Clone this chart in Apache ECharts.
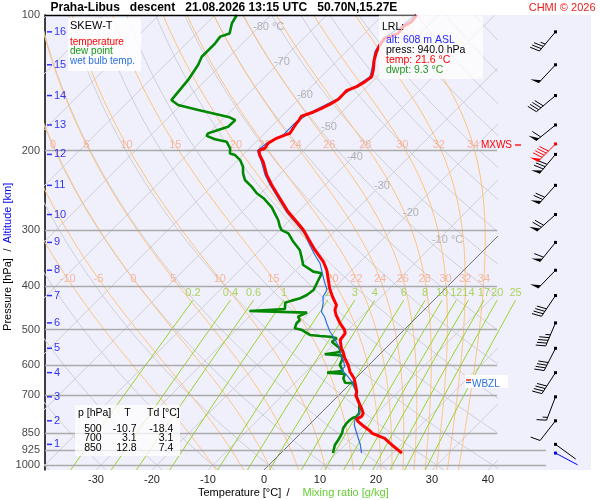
<!DOCTYPE html>
<html>
<head>
<meta charset="utf-8">
<title>Skew-T Praha-Libus</title>
<style>
    html, body { margin: 0; padding: 0; background: #fff; }
    #container { width: 600px; height: 500px; }
</style>
</head>
<body>
<div id="container"></div>
<script src="https://cdn.jsdelivr.net/npm/echarts@6.0.0/dist/echarts.min.js"></script>
<script type="text/javascript">
// sounding (p in hPa, values in °C)
var tempP = [940, 906.7, 871.6, 850, 839.6, 818.4, 800.6, 789.7, 780.4, 767, 747.5, 728.7, 700, 686.8, 657.7, 641.2, 620, 599.1, 578.9, 559.7, 550.1, 527.2, 509.5, 500, 484, 463.9, 452.2, 440.9, 422.5, 404.8, 368.5, 353.1, 332.6, 313.3, 300.4, 287.9, 273.6, 255.3, 238.6, 226.6, 211.8, 204.7, 200.2, 197.7, 192.7, 187.9, 184.8, 183.2, 178.5, 174, 171.2, 167.7, 164.9, 161.2, 157.1, 153.9, 147.3, 144.3, 140.6, 137.1, 132.5, 126, 120.6, 116.6, 112.7, 109.9, 106.2, 103.5, 100];
var tempT = [21.6, 18.8, 15.9, 12.8, 12.0, 9.9, 8.2, 7.4, 7.9, 7.6, 6.4, 5.1, 3.1, 2.6, 0.8, -0.3, -2.2, -3.7, -5.5, -7.0, -7.9, -9.6, -9.9, -10.7, -12.6, -14.8, -15.9, -16.5, -18.7, -20.7, -24.5, -26.6, -30.2, -33.5, -35.8, -38.5, -41.8, -45.7, -49.5, -52.2, -55.2, -57.0, -57.9, -57.3, -57.6, -57.0, -56.1, -55.5, -55.8, -56.1, -56.2, -56.5, -55.3, -54.3, -53.4, -52.9, -53.0, -51.9, -51.3, -51.0, -51.9, -53.5, -54.6, -55.2, -55.5, -54.0, -54.3, -53.7, -54.0];

var dewP = [940, 902, 879.1, 850, 828.2, 807.3, 793.7, 784.4, 780.4, 767, 747.5, 728.7, 700, 686.8, 657.7, 655.8, 641.2, 627.2, 623, 617.6, 599.1, 583.8, 570.5, 567.2, 560.5, 550.1, 531.8, 522.7, 518.3, 516.5, 513.8, 500, 496.6, 484, 475.8, 467.9, 458.4, 454.4, 449.8, 435.5, 431, 425.8, 418.7, 408.1, 387.9, 374.8, 371.6, 359.2, 344.2, 332.6, 319, 305.5, 300.4, 295.3, 285.4, 275.8, 267.5, 255.3, 248.9, 240.6, 232.5, 224.8, 217.3, 210, 204.7, 203, 197.7, 191.2, 188.8, 185.6, 183.2, 180.1, 177.1, 171.2, 169.6, 168.8, 162.6, 158.5, 154.5, 146.8, 139.4, 129.1, 123.8, 115.6, 111.7, 109.9, 104.3, 100];
var dewT = [9.3, 8.2, 7.9, 7.4, 6.7, 6.4, 6.4, 6.6, 7.0, 6.9, 6.0, 5.1, 3.1, 2.6, 0.4, -1.1, -2.2, -2.7, -6.1, -3.6, -5.2, -5.7, -6.5, -9.8, -7.5, -8.2, -10.8, -10.5, -12.0, -13.9, -15.9, -18.4, -19.8, -20.4, -20.4, -21.3, -20.4, -31.0, -25.0, -26.1, -25.3, -24.2, -23.6, -23.3, -24.2, -24.8, -26.6, -29.6, -31.4, -32.9, -35.5, -37.9, -39.7, -40.6, -42.1, -43.9, -45.5, -48.6, -50.7, -52.8, -55.2, -56.7, -57.9, -59.6, -61.4, -62.6, -63.5, -65.3, -67.8, -69.9, -70.1, -68.9, -67.7, -67.6, -68.0, -69.1, -76.0, -80.5, -82.6, -82.9, -83.2, -84.1, -84.9, -84.9, -85.2, -84.1, -85.5, -86.1];

var wbP = [940, 898.7, 849.5, 814.3, 793.7, 780.4, 747.5, 728.7, 686.8, 652.3, 630.5, 614.6, 604.2, 583.8, 569.1, 559.7, 540.8, 518.3, 505.3, 484, 469.4, 456.1, 436.9, 422.5, 408.1, 387.9, 356.1, 341.2, 324.3, 308.1, 300.4, 287.9, 273.6, 255.3, 238.6, 226.6, 211.8, 200.2, 192.7, 184.8, 174, 164.9, 153.9, 144.3, 137.1, 132.5, 120.6, 112.7, 106.2, 100];
var wbT = [14.4, 12.6, 10.0, 8.1, 7.3, 7.2, 6.2, 5.0, 2.5, -0.1, -2.2, -4.0, -4.0, -5.5, -7.0, -7.3, -9.1, -11.4, -12.9, -15.0, -16.4, -18.0, -19.2, -20.4, -20.9, -23.2, -26.9, -29.3, -32.0, -34.6, -36.1, -38.8, -42.1, -46.0, -49.8, -52.5, -55.5, -58.2, -57.9, -56.4, -56.4, -55.6, -53.2, -52.2, -51.3, -52.2, -54.9, -55.8, -54.6, -54.3];

// altitude scale (km) and the pressure at each km
var altKm = [1, 2, 3, 4, 5, 6, 7, 8, 9, 10, 11, 12, 13, 14, 15, 16];
var altP = [899, 797, 705, 623, 550, 483, 420, 369, 320, 277.5, 239, 204, 175.5, 151, 129, 109];
// wind at each km: direction (deg), speed (kt)
var windDir = [126, 218, 201, 213, 207, 203, 214, 224, 219, 228, 222, 220, 231, 230, 223, 220];
var windSpd = [2, 10, 15, 40, 40, 45, 40, 50, 60, 70, 70, 80, 60, 40, 50, 35];
var maxWind = {p: 193.4, dir: 225, spd: 90};
var lrlWind = {p: 940, dir: 118, spd: 2};

var lrl = {alt: 608, p: 940.0, t: 21.6, td: 9.3};
var tableP = [500, 700, 850];
var tableT = [-10.7, 3.1, 12.8];
var tableTd = [-18.4, 3.1, 7.4];

// ticks / reference lines
var pressureTicks = [100, 200, 300, 400, 500, 600, 700, 850, 925, 1000];
var tempTicks = [-30, -20, -10, 0, 10, 20, 30, 40];
var mixRatios = [0.2, 0.4, 0.6, 1, 2, 3, 4, 6, 8, 10, 12, 14, 17, 20, 25];
var moistThetaW = [-10, -5, 0, 5, 10, 15, 20, 22, 24, 26, 28, 30, 32, 34];
var isoLabelT = [-80, -70, -60, -50, -40, -30, -20, -10];

// ---- layout ----
var FONT = '"Liberation Sans", Arial, sans-serif';
var P_TOP = 100, P_BOT = 1025;
var PX_PER_DEG = 5.6;
var GRID_L = 45, GRID_R = 103, GRID_T = 15, GRID_B = 30;
var PLOT_W = 600 - GRID_L - GRID_R, PLOT_H = 500 - GRID_T - GRID_B;
var X_MIN = -39.1, X_MAX = X_MIN + PLOT_W / PX_PER_DEG;
var SKEW = PLOT_H / Math.log10(P_BOT / P_TOP) / PX_PER_DEG;   // °C shift per decade of p
var X_WIND = X_MIN + (555.5 - GRID_L) / PX_PER_DEG;
var X_ALT = X_MIN + 4.5 / PX_PER_DEG;
var isoLabelP = [106.3, 127.2, 150.6, 177.3, 206.8, 239.7, 275.3, 316.1];
var MIX_TOP = 430;
var MOIST_LABEL_P = [385.8, 194.4];

function skewX(t, p) { return t + SKEW * Math.log10(P_BOT / p); }
function profile(ps, ts) { return ps.map(function (p, i) { return [skewX(ts[i], p), p]; }); }

function pSteps(p0, p1, n) {
    var out = [];
    for (var i = 0; i <= n; i++) out.push(p0 * Math.pow(p1 / p0, i / n));
    return out;
}

// background thermodynamics
function satVap(tc) { return 6.112 * Math.exp(17.67 * tc / (tc + 243.5)); }
function moistLapse(p, tk) {
    var es = satVap(tk - 273.15);
    var rs = 0.622 * es / (p - es);
    var Lv = 2.501e6, Rd = 287.04, cp = 1005.7;
    return (Rd * tk + Lv * rs) / p / (cp + Lv * Lv * rs * 0.622 / (Rd * tk * tk));
}
function rk4(p, t, h) {
    var k1 = moistLapse(p, t);
    var k2 = moistLapse(p + h / 2, t + h * k1 / 2);
    var k3 = moistLapse(p + h / 2, t + h * k2 / 2);
    var k4 = moistLapse(p + h, t + h * k3);
    return t + h * (k1 + 2 * k2 + 2 * k3 + k4) / 6;
}
function moistCurve(thw) {
    var t = thw + 273.15, p = 1000;
    for (var i = 0; i < 5; i++) { t = rk4(p, t, 5); p += 5; }
    var pts = [[skewX(t - 273.15, p), p]];
    while (p > P_TOP + 0.01) { t = rk4(p, t, -5); p -= 5; pts.push([skewX(t - 273.15, p), p]); }
    return pts;
}
function xAtP(pts, p) {
    for (var i = 1; i < pts.length; i++) {
        if (pts[i][1] <= p) {
            var a = pts[i - 1], b = pts[i];
            var f = Math.log(a[1] / p) / Math.log(a[1] / b[1]);
            return a[0] + f * (b[0] - a[0]);
        }
    }
    return pts[pts.length - 1][0];
}
function mixTemp(w, p) {
    var l = Math.log(w * p / (622 + w) / 6.112);
    return 243.5 * l / (17.67 - l);
}
function dryTemp(thc, p) { return (thc + 273.15) * Math.pow(p / 1000, 0.2857) - 273.15; }

var isoLines = [], zeroLine = [];
for (var T = -120; T <= 40; T += 10) {
    var isoSeg = {coords: [[skewX(T, P_BOT), P_BOT], [skewX(T, P_TOP), P_TOP]]};
    (T === 0 ? zeroLine : isoLines).push(isoSeg);
}
var dryLines = [];
for (var th = -40; th <= 180; th += 10) {
    dryLines.push({coords: pSteps(P_BOT, P_TOP, 30).map(function (p) { return [skewX(dryTemp(th, p), p), p]; })});
}
var moistLines = [], moistLabels = [];
moistThetaW.forEach(function (thw) {
    var pts = moistCurve(thw);
    moistLines.push({coords: pts});
    MOIST_LABEL_P.forEach(function (lp) {
        var x = xAtP(pts, lp);
        if (x > X_MIN + 1 && x < X_MAX) moistLabels.push({name: String(thw), value: [x, lp]});
    });
});
var mixLines = [], mixLabels = [];
mixRatios.forEach(function (w) {
    mixLines.push({coords: pSteps(P_BOT, MIX_TOP, 12).map(function (p) { return [skewX(mixTemp(w, p), p), p]; })});
    mixLabels.push({name: String(w), value: [skewX(mixTemp(w, MIX_TOP), MIX_TOP), MIX_TOP]});
});
var pLines = pressureTicks.filter(function (p) { return p > P_TOP; }).map(function (p) {
    var xEnd = p >= 925 ? X_MIN + 501 / PX_PER_DEG : X_MAX;
    return {coords: [[X_MIN, p], [xEnd, p]]};
});

var windData = altP.map(function (p, i) { return {value: [X_WIND, p, windDir[i], windSpd[i]]}; });
windData.push({value: [X_WIND, maxWind.p, maxWind.dir, maxWind.spd], itemStyle: {color: '#ff0000'}});
windData.push({value: [X_WIND, lrlWind.p, lrlWind.dir, lrlWind.spd], itemStyle: {color: '#0000ff'}});

function renderBarb(params, api) {
    var pt = api.coord([api.value(0), api.value(1)]);
    var dir = api.value(2) * Math.PI / 180, spd = api.value(3);
    var color = api.visual('color');
    var ux = Math.sin(dir), uy = -Math.cos(dir);
    var tip = [pt[0] + ux * 25, pt[1] + uy * 25];
    var ba = Math.atan2(uy, ux) + 72 * Math.PI / 180;
    var bx = Math.cos(ba), by = Math.sin(ba);
    var kids = [
        {type: 'line', shape: {x1: pt[0], y1: pt[1], x2: tip[0], y2: tip[1]}, style: {stroke: color, lineWidth: 1}},
        {type: 'rect', shape: {x: pt[0] - 1.5, y: pt[1] - 1.5, width: 3, height: 3}, style: {fill: color}}
    ];
    var rest = Math.round(spd / 5) * 5, d = 0;
    function at(k) { return [tip[0] - ux * k, tip[1] - uy * k]; }
    while (rest >= 50) {
        var a = at(d), b = at(d + 4);
        kids.push({type: 'polygon', shape: {points: [a, [a[0] + bx * 9, a[1] + by * 9], b]}, style: {fill: color}});
        d += 6; rest -= 50;
    }
    while (rest >= 10) {
        var s = at(d);
        kids.push({type: 'line', shape: {x1: s[0], y1: s[1], x2: s[0] + bx * 10, y2: s[1] + by * 10}, style: {stroke: color, lineWidth: 1}});
        d += 3; rest -= 10;
    }
    if (rest >= 5) {
        if (d === 0) d = 3;
        var h = at(d);
        kids.push({type: 'line', shape: {x1: h[0], y1: h[1], x2: h[0] + bx * 5, y2: h[1] + by * 5}, style: {stroke: color, lineWidth: 1}});
    }
    return {type: 'group', children: kids};
}

function txt(x, y, text, o) {
    o = o || {};
    var st = {
        text: text, fill: o.color || '#000',
        font: (o.bold ? 'bold ' : '') + (o.size || 11) + 'px ' + FONT,
        align: o.align || 'left', textAlign: o.align || 'left',
        verticalAlign: 'middle', textVerticalAlign: 'middle'
    };
    return {type: 'text', x: x, y: y, z: 120, rotation: o.rot || 0, silent: true, style: st};
}
function box(x, y, w, h, fill) {
    return {type: 'rect', z: 110, silent: true, shape: {x: x, y: y, width: w, height: h}, style: {fill: fill}};
}
function seg(x1, y1, x2, y2, color, w, z) {
    return {type: 'line', z: z || 120, silent: true, shape: {x1: x1, y1: y1, x2: x2, y2: y2}, style: {stroke: color, lineWidth: w}};
}

var graphics = [
    {type: 'rect', z: -1, silent: true, shape: {x: 45, y: 15, width: 546, height: 455}, style: {fill: '#f0f0fc'}},
    seg(45, 15.5, 416, 15.5, '#000', 1.3, 5),
    txt(50.5, 7.5, 'Praha-Libus   descent   21.08.2026 13:15 UTC   50.70N,15.27E', {bold: true, size: 12}),
    txt(595.5, 7.5, 'CHMI \u00a9 2026', {color: '#ee1c1c', align: 'right'}),
    // axis titles
    txt(7.5, 294.5, 'Pressure [hPa]', {rot: Math.PI / 2, align: 'center'}),
    txt(7.5, 250, '/', {rot: Math.PI / 2, align: 'center'}),
    txt(7.5, 213, 'Altitude [km]', {rot: Math.PI / 2, align: 'center', color: '#0000ee'}),
    txt(198, 493, 'Temperature [\u00b0C]'),
    txt(288, 493, '/', {align: 'center'}),
    txt(302.5, 493, 'Mixing ratio [g/kg]', {color: '#66cc33'}),
    // legend
    box(68, 18, 73, 53, 'rgba(255,255,255,0.85)'),
    txt(70, 26, 'SKEW-T'),
    txt(70, 42.3, 'temperature', {color: '#ff0000', size: 10}),
    txt(70, 51.7, 'dew point', {color: '#119911', size: 10}),
    txt(70, 61.7, 'wet bulb temp.', {color: '#2a6fe0', size: 10}),
    // lifted reference level
    box(379, 15.5, 104, 63.5, 'rgba(255,255,255,0.72)'),
    txt(382, 26.7, 'LRL:', {size: 10.5}),
    txt(386, 39.7, 'alt: ' + lrl.alt + ' m ASL', {size: 10.5, color: '#1f1fff'}),
    txt(386, 50, 'press: ' + lrl.p.toFixed(1) + ' hPa', {size: 10.5}),
    txt(386, 60, 'temp: ' + lrl.t.toFixed(1) + ' \u00b0C', {size: 10.5, color: '#ff0000'}),
    txt(386, 70, 'dwpt: ' + lrl.td.toFixed(1) + ' \u00b0C', {size: 10.5, color: '#229922'}),
    // table
    box(75, 405, 105, 51, 'rgba(255,255,255,0.75)'),
    txt(78, 413.3, 'p [hPa]', {size: 10.5}),
    txt(127.5, 413.3, 'T', {size: 10.5, align: 'center'}),
    txt(147, 413.3, 'Td [\u00b0C]', {size: 10.5}),
    // markers
    txt(512, 145.3, 'MXWS', {size: 10, color: '#ff0000', align: 'right'}),
    seg(515, 145, 521, 145, '#ff0000', 1.3),
    box(465, 375, 43, 13, '#ffffff'),
    seg(466, 380, 471, 380, '#ff0000', 1.3),
    seg(466, 382.5, 471, 382.5, '#2a6fe0', 1.3),
    txt(472, 384, 'WBZL', {size: 10, color: '#2a6fe0'})
];
tableP.forEach(function (p, i) {
    var y = 428.7 + i * 9.8;
    graphics.push(txt(101.7, y, String(p), {size: 10.5, align: 'right'}));
    graphics.push(txt(136.7, y, tableT[i].toFixed(1), {size: 10.5, align: 'right'}));
    graphics.push(txt(173.3, y, tableTd[i].toFixed(1), {size: 10.5, align: 'right'}));
});

function bgLines(data, color, z, clip, poly) {
    return {
        type: 'lines', coordinateSystem: 'cartesian2d', polyline: poly !== false, clip: clip,
        silent: true, z: z, data: data,
        lineStyle: {color: color, width: 1, opacity: 1}
    };
}
function labelSeries(data, z, label) {
    return {
        type: 'scatter', silent: true, clip: false, z: z, symbol: 'rect', symbolSize: 0.01,
        itemStyle: {color: 'transparent'}, data: data,
        label: Object.assign({show: true, formatter: '{b}', fontSize: 11, fontFamily: FONT}, label)
    };
}

var option = {
    animation: false,
    grid: {left: GRID_L, right: GRID_R, top: GRID_T, bottom: GRID_B, outerBoundsMode: 'none'},
    xAxis: {
        type: 'value', min: X_MIN, max: X_MAX,
        axisLine: {show: false, onZero: false}, axisTick: {show: false}, splitLine: {show: false},
        axisLabel: {customValues: tempTicks, fontSize: 11, fontFamily: FONT, color: '#222', margin: 4}
    },
    yAxis: {
        type: 'log', logBase: 10, min: P_TOP, max: P_BOT, inverse: true,
        axisLine: {show: true, onZero: false, lineStyle: {color: '#000', width: 1.5}},
        axisTick: {show: false}, axisLabel: {show: false}, splitLine: {show: false}
    },
    graphic: {elements: graphics},
    series: [
        bgLines(isoLines, '#cfcfd6', 1, true, false),
        bgLines(dryLines, '#cfcfd6', 1, true),
        bgLines(moistLines, '#ffc27a', 1, true),
        bgLines(mixLines, '#99d32a', 1, false),
        bgLines(zeroLine, '#707070', 1, true, false),
        {
            type: 'lines', coordinateSystem: 'cartesian2d', clip: false, silent: true, z: 2, data: pLines,
            lineStyle: {color: '#aaaaaa', width: 1.3, opacity: 1}
        },
        labelSeries(isoLabelT.map(function (t, i) {
            return {name: String(t) + (i === 0 || i === isoLabelT.length - 1 ? ' \u00b0C' : ''), value: [skewX(t, isoLabelP[i]), isoLabelP[i]]};
        }), 2, {position: 'inside', align: 'left', offset: [-6, 0], color: '#a3a3a3'}),
        labelSeries(moistLabels, 2, {position: 'inside', color: '#f5a98c'}),
        labelSeries(mixLabels, 2, {position: 'inside', offset: [0, -7], color: '#99cc33'}),
        labelSeries(pressureTicks.map(function (p) { return {name: String(p), value: [X_MIN, p]}; }), 5,
            {position: 'left', distance: 5, color: '#111'}),
        {
            type: 'scatter', silent: true, clip: false, z: 5, symbol: 'rect', symbolSize: [5, 1.5],
            itemStyle: {color: '#0000ff'},
            data: altKm.map(function (k, i) { return {name: String(k), value: [X_ALT, altP[i]]}; }),
            label: {show: true, position: 'right', distance: 2, formatter: '{b}', color: '#0000ee', fontSize: 11, fontFamily: FONT}
        },
        {
            name: 'dew point', type: 'line', z: 3, symbol: 'none', silent: true,
            data: profile(dewP, dewT), lineStyle: {color: '#008800', width: 2.6}
        },
        {
            name: 'wet bulb temp.', type: 'line', z: 3, symbol: 'none', silent: true,
            data: profile(wbP, wbT), lineStyle: {color: '#2a6fe0', width: 1.2}
        },
        {
            name: 'temperature', type: 'line', z: 3, symbol: 'none', silent: true,
            data: profile(tempP, tempT), lineStyle: {color: '#ff0000', width: 3}
        },
        {
            type: 'custom', coordinateSystem: 'cartesian2d', silent: true, z: 4,
            itemStyle: {color: '#000'}, encode: {x: 0, y: 1},
            data: windData, renderItem: renderBarb
        }
    ]
};

var myChart = echarts.init(document.getElementById('container'));
myChart.setOption(option);
</script>
</body>
</html>
